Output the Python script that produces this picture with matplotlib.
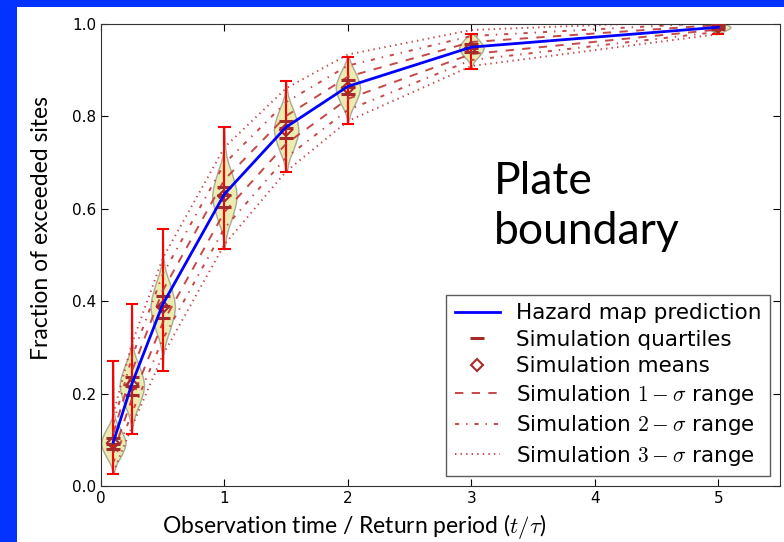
import numpy as np
import matplotlib
matplotlib.use("Agg")
import matplotlib.pyplot as plt
from matplotlib.patches import Rectangle

plt.rcParams['mathtext.fontset'] = 'cm'
plt.rcParams['lines.dashed_pattern'] = [6, 6]
plt.rcParams['lines.dashdot_pattern'] = [3, 5, 1, 5]
plt.rcParams['lines.dotted_pattern'] = [1, 3]
plt.rcParams['lines.scale_dashes'] = False

# observation time / return period
t = [0.1, 0.25, 0.5, 1.0, 1.5, 2.0, 3.0, 5.0]
# hazard map prediction
pred = [0.095, 0.221, 0.393, 0.632, 0.777, 0.865, 0.950, 0.993]
# simulation statistics
sim_mean = [0.093, 0.218, 0.388, 0.628, 0.771, 0.862, 0.948, 0.993]
sim_sd = [0.021, 0.030, 0.035, 0.035, 0.030, 0.024, 0.013, 0.005]
sim_q1 = [0.080, 0.198, 0.364, 0.604, 0.754, 0.848, 0.940, 0.990]
sim_med = [0.091, 0.217, 0.389, 0.630, 0.775, 0.864, 0.949, 0.994]
sim_q3 = [0.103, 0.236, 0.411, 0.648, 0.790, 0.878, 0.957, 0.997]
sim_min = [0.027, 0.113, 0.250, 0.512, 0.680, 0.784, 0.903, 0.979]
sim_max = [0.271, 0.394, 0.556, 0.778, 0.877, 0.929, 0.978, 0.999]

# violin outline (relative density at offsets in units of sd)
prof_off = [-3, -2.5, -2, -1.5, -1, -0.5, 0, 0.5, 1, 1.5, 2, 2.5, 3]
prof_val = [0.06, 0.15, 0.32, 0.55, 0.75, 0.92, 1.0, 0.92, 0.75, 0.55, 0.32, 0.15, 0.06]

fig = plt.figure(figsize=(7.84, 5.42), dpi=100)
fig.patch.set_facecolor('#0433ff')
fig.add_artist(Rectangle((17 / 784, 0), 1, 535 / 542, transform=fig.transFigure,
                         facecolor='white', edgecolor='none', zorder=-1))
ax = fig.add_axes([0.1288, 0.1033, 0.8661, 0.8524])

stats = []
for i in range(len(t)):
    c = sim_mean[i] + np.array(prof_off) * sim_sd[i]
    c = np.clip(c, sim_min[i], sim_max[i])
    stats.append(dict(coords=np.concatenate([[sim_min[i]], c, [sim_max[i]]]),
                      vals=np.array([0.0] + prof_val + [0.0]),
                      mean=sim_mean[i], median=sim_med[i],
                      min=sim_min[i], max=sim_max[i]))

parts = ax.violin(stats, positions=t, widths=0.2, showextrema=True)
for b in parts['bodies']:
    b.set_facecolor('y')
    b.set_edgecolor('k')
    b.set_alpha(0.3)
for k in ('cbars', 'cmins', 'cmaxes'):
    parts[k].set_color('r')
    parts[k].set_linewidth(1.5)

dark = '#a52a2a'
lc = '#c03535'
mean = np.array(sim_mean)
sd = np.array(sim_sd)

ax.plot(t, pred, color='b', lw=2, zorder=6, label='Hazard map prediction')
ax.plot(t, sim_q1, ls='none', marker='_', color=dark, ms=10, mew=2.2, zorder=5,
        label='Simulation quartiles')
ax.plot(t, sim_med, ls='none', marker='_', color=dark, ms=10, mew=2.2, zorder=5)
ax.plot(t, sim_q3, ls='none', marker='_', color=dark, ms=10, mew=2.2, zorder=5)
ax.plot(t, sim_mean, ls='none', marker='D', mfc='none', mec=dark, ms=6, mew=1.5,
        zorder=5, label='Simulation means')
for k, ls in [(1, '--'), (2, '-.'), (3, ':')]:
    ax.plot(t, mean + k * sd, ls=ls, color=lc, lw=1.4, alpha=0.9,
            label='Simulation $%d-\\sigma$ range' % k)
    ax.plot(t, mean - k * sd, ls=ls, color=lc, lw=1.4, alpha=0.9)

ax.set_xlim(0, 5.5)
ax.set_ylim(0, 1.0)
ax.set_xticks([0, 1, 2, 3, 4, 5])
ax.set_yticks([0.0, 0.2, 0.4, 0.6, 0.8, 1.0])
ax.tick_params(direction='in', top=True, right=True, length=5, labelsize=11)
for s in ax.spines.values():
    s.set_color('#333333')

ax.set_xlabel('Observation time / Return period ($t/\\tau$)', family='Lato',
              fontsize=16.5)
ax.xaxis.set_label_coords(0.373, -0.057)
ax.set_ylabel('Fraction of exceeded sites', family='Lato', fontsize=16.5)
ax.yaxis.set_label_coords(-0.072, 0.558)

ax.text(3.18, 0.605, 'Plate\nboundary', family='Lato', fontsize=32,
        va='center', ha='left', linespacing=1.25)

leg = ax.legend(loc='lower right', fontsize=15.5, numpoints=1, fancybox=False,
                handlelength=2.1, handletextpad=0.75, borderaxespad=0.45,
                labelspacing=0.3, borderpad=0.4)
leg.get_frame().set_edgecolor('#333333')

fig.savefig('out.png', dpi=100, facecolor=fig.get_facecolor())
